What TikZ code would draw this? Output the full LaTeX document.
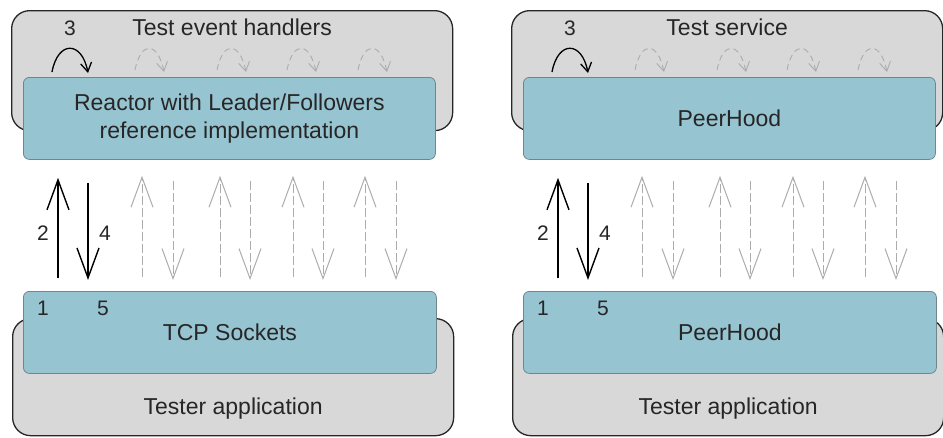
\documentclass[tikz,border=0pt]{standalone}
\usepackage{fontspec}
\setmainfont{Liberation Sans}
\usetikzlibrary{arrows.meta,calc}
\definecolor{hostgray}{RGB}{216,216,216}
\definecolor{layerblue}{RGB}{151,196,209}
\definecolor{layerline}{RGB}{110,135,142}
\definecolor{faint}{RGB}{172,172,172}
\newcommand{\layerfont}{\fontsize{23}{28}\selectfont}
\newcommand{\numfont}{\fontsize{21}{24}\selectfont}
\tikzset{
  host/.style={draw=black!85,line width=1.3pt,fill=hostgray,rounded corners=18pt,
               anchor=north west,minimum height=120pt,inner sep=0pt},
  layer/.style={draw=layerline,line width=0.8pt,fill=layerblue,rounded corners=6pt,
                anchor=north west,minimum width=412pt,minimum height=82pt,
                align=center,font=\layerfont,text=black!85,inner sep=0pt},
  txt/.style={font=\layerfont,text=black!85,inner sep=0pt,anchor=base},
  num/.style={txt,font=\numfont},
  call/.style={line width=1.4pt,-{Straight Barb[length=30pt,width=22pt]}},
  callf/.style={call,draw=faint,line width=1pt,dash pattern=on 9pt off 3pt},
  hop/.style={line width=1.3pt,-{Straight Barb[length=9pt,width=11pt]}},
  hopf/.style={hop,draw=faint,line width=0.9pt,dash pattern=on 6pt off 4pt},
}
% #1 prefix, #2 x offset, #3 host width, #4 title, #5 upper layer, #6 lower layer
\newcommand{\testpanel}[6]{%
  \begin{scope}[xshift=#2pt]
    \node[host, minimum width=#3pt] (#1hdl) at (11,10) {};
    \node[txt] (#1ttl) at ([yshift=-25pt]#1hdl.north) {#4};
    \node[layer] (#1svc) at (23,77) {#5};
    % dispatch hops
    \draw[hop] ([shift={(29,-5)}]#1svc.north west) .. controls +(6,-32) and +(-6,-32)
      .. ([shift={(65,-4)}]#1svc.north west);
    \foreach \s in {112,194,264,335}
      \draw[hopf] ([shift={(\s,-7)}]#1svc.north west) .. controls +(6,-30) and +(-6,-30)
        .. ([shift={(\s+29,-5)}]#1svc.north west);
    \node[num] (#1three) at ([xshift=47pt,yshift=42pt]#1svc.north west) {3};
    % tester side
    \node[host, minimum width=#3pt, minimum height=117pt] (#1app) at (12,318) {};
    \node[layer, minimum width=413pt] (#1net) at (23,291) {#6};
    \node[txt] (#1tst) at ([yshift=22pt]#1app.south) {Tester application};
    % requests and replies
    \draw[call, shorten <=13pt, shorten >=18pt]
      ([xshift=35pt]#1net.north west) -- ([xshift=35pt]#1svc.south west);
    \draw[call, shorten <=23pt, shorten >=11pt]
      ([xshift=65pt]#1svc.south west) -- ([xshift=65pt]#1net.north west);
    \foreach \u/\d in {119/150,197/227,270/300,342/373} {
      \draw[callf, shorten <=14pt, shorten >=16pt]
        ([xshift=\u pt]#1net.north west) -- ([xshift=\u pt]#1svc.south west);
      \draw[callf, shorten <=21pt, shorten >=11pt]
        ([xshift=\d pt]#1svc.south west) -- ([xshift=\d pt]#1net.north west);
    }
    \node[num] (#1two)  at ([xshift=20pt,yshift=51pt]#1net.north west) {2};
    \node[num] (#1four) at ([xshift=82pt,yshift=51pt]#1net.north west) {4};
    \node[num] (#1one)  at ([xshift=20pt,yshift=-24pt]#1net.north west) {1};
    \node[num] (#1five) at ([xshift=80pt,yshift=-24pt]#1net.north west) {5};
  \end{scope}}

\begin{document}
\begin{tikzpicture}[x=1pt, y=-1pt]
\useasboundingbox (0,0) rectangle (943,437);
\testpanel{l}{0}{441}{Test event handlers}{Reactor with Leader/Followers\\reference implementation}{TCP Sockets}
\testpanel{r}{500}{431}{Test service}{PeerHood}{PeerHood}
\end{tikzpicture}
\end{document}
